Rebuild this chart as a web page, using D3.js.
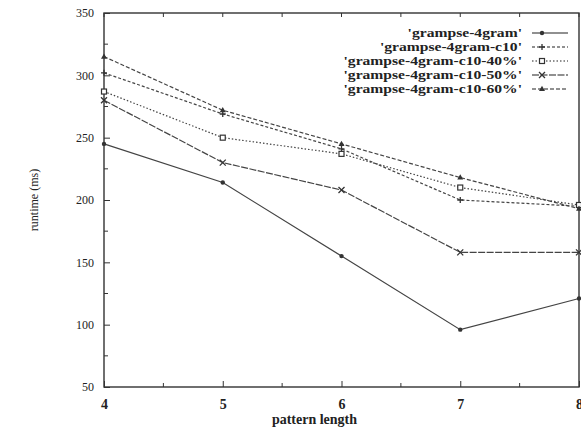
<!DOCTYPE html>
<html><head><meta charset="utf-8">
<script src="https://cdn.jsdelivr.net/npm/d3@7"></script>
<style>
body{margin:0;background:#fff;}
svg{display:block;}
text{font-family:"Liberation Serif","DejaVu Serif",serif;fill:#222;}
</style></head>
<body><svg id="c" width="581" height="434"></svg>
<script>
const patternLengths = [4, 5, 6, 7, 8];
const seriesNames = ["'grampse-4gram'", "'grampse-4gram-c10'", "'grampse-4gram-c10-40%'", "'grampse-4gram-c10-50%'", "'grampse-4gram-c10-60%'"];
const s4gram   = [245, 214, 155, 96, 121];
const sC10     = [302, 269, 241, 200, 195];
const sC10_40  = [287, 250, 237, 210, 196];
const sC10_50  = [280, 230, 208, 158, 158];
const sC10_60  = [315, 272, 245, 218, 193];
const yTicks = [50, 100, 150, 200, 250, 300, 350];
const xTicks = [4, 5, 6, 7, 8];

const seriesValues = [s4gram, sC10, sC10_40, sC10_50, sC10_60];
const dashes = [null, "3,2", "1.5,2", "7,1.5", "4,2"];
const markers = ["dot", "plus", "square", "cross", "tri"];

const svg = d3.select("#c");
const L = 104, R = 579, T = 13, B = 387;
const x = d3.scaleLinear().domain([4, 8]).range([L, R]);
const y = d3.scaleLinear().domain([50, 350]).range([B, T]);
const ink = "#333";

svg.append("rect").attr("x", L).attr("y", T).attr("width", R - L).attr("height", B - T)
  .attr("fill", "none").attr("stroke", ink).attr("stroke-width", 1.4);

const xAxis = d3.axisBottom(x).tickValues(xTicks).tickFormat(d3.format("d")).tickSizeInner(-6).tickSizeOuter(0).tickPadding(12);
const gx = svg.append("g").attr("transform", `translate(0,${B})`).call(xAxis);
gx.select(".domain").remove();
gx.selectAll("line").attr("stroke", ink);
gx.selectAll("text").attr("font-size", 14).attr("font-weight", "bold").attr("fill", "#222")
  .style("font-family", "'Liberation Serif',serif");

const yAxis = d3.axisLeft(y).tickValues(yTicks).tickSizeInner(-6).tickSizeOuter(0).tickPadding(10);
const gy = svg.append("g").attr("transform", `translate(${L},0)`).call(yAxis);
gy.select(".domain").remove();
gy.selectAll("line").attr("stroke", ink);
gy.selectAll("text").attr("font-size", 12).attr("fill", "#444")
  .style("font-family", "'Liberation Serif',serif");

const xMinor = d3.range(4.5, 8, 1);
svg.append("g").selectAll("line").data(xMinor).join("line")
  .attr("x1", d => x(d)).attr("x2", d => x(d)).attr("y1", B).attr("y2", B - 4).attr("stroke", ink);
svg.append("g").selectAll("line").data(xTicks.concat(xMinor)).join("line")
  .attr("x1", d => x(d)).attr("x2", d => x(d)).attr("y1", T).attr("y2", T + 4).attr("stroke", ink);
const yMinor = d3.range(75, 350, 50);
svg.append("g").selectAll("line").data(yMinor).join("line")
  .attr("x1", L).attr("x2", L + 4).attr("y1", d => y(d)).attr("y2", d => y(d)).attr("stroke", ink);

svg.append("text").attr("x", (L + R) / 2 - 27).attr("y", 424).attr("text-anchor", "middle")
  .attr("font-size", 14).attr("font-weight", "bold").text("pattern length");
svg.append("text").attr("transform", `translate(38,${(T + B) / 2}) rotate(-90)`).attr("text-anchor", "middle")
  .attr("font-size", 12).attr("fill", "#444").text("runtime (ms)");

function drawMarker(g, type, cx, cy) {
  const s = 3;
  if (type === "dot") g.append("circle").attr("cx", cx).attr("cy", cy).attr("r", 2.2).attr("fill", ink);
  else if (type === "plus") g.append("path").attr("d", `M${cx - s},${cy}H${cx + s}M${cx},${cy - s}V${cy + s}`).attr("stroke", ink).attr("stroke-width", 1.3);
  else if (type === "square") g.append("rect").attr("x", cx - 2.5).attr("y", cy - 2.5).attr("width", 5).attr("height", 5).attr("fill", "#fff").attr("stroke", ink).attr("stroke-width", 1.2);
  else if (type === "cross") g.append("path").attr("d", `M${cx - s},${cy - s}L${cx + s},${cy + s}M${cx - s},${cy + s}L${cx + s},${cy - s}`).attr("stroke", ink).attr("stroke-width", 1.3);
  else if (type === "tri") g.append("path").attr("d", `M${cx},${cy - 3.2}L${cx + 3},${cy + 2}L${cx - 3},${cy + 2}Z`).attr("fill", ink);
}

const line = d3.line().x((d, i) => x(patternLengths[i])).y(d => y(d));
seriesValues.forEach((vals, k) => {
  const g = svg.append("g");
  g.append("path").datum(vals).attr("d", line).attr("fill", "none").attr("stroke", "#444")
    .attr("stroke-width", 1.2).attr("stroke-dasharray", dashes[k]);
  vals.forEach((v, i) => drawMarker(g, markers[k], x(patternLengths[i]), y(v)));
});

const legY0 = 33, legDy = 14;
seriesNames.forEach((name, k) => {
  const yy = legY0 + k * legDy;
  svg.append("rect").attr("x", 340).attr("y", yy - 7).attr("width", 232).attr("height", 14).attr("fill", "#fff");
  const t = svg.append("text").attr("x", 522).attr("y", yy + 4).attr("text-anchor", "end")
    .attr("font-size", 12).attr("font-weight", "bold").attr("fill", "#111").text(name);
  const w = t.node().getComputedTextLength();
  t.attr("textLength", w * 1.3).attr("lengthAdjust", "spacingAndGlyphs");
  svg.append("line").attr("x1", 532).attr("x2", 568).attr("y1", yy).attr("y2", yy)
    .attr("stroke", "#222").attr("stroke-width", 1.2).attr("stroke-dasharray", dashes[k]);
  drawMarker(svg, markers[k], 542, yy);
});
</script></body></html>
